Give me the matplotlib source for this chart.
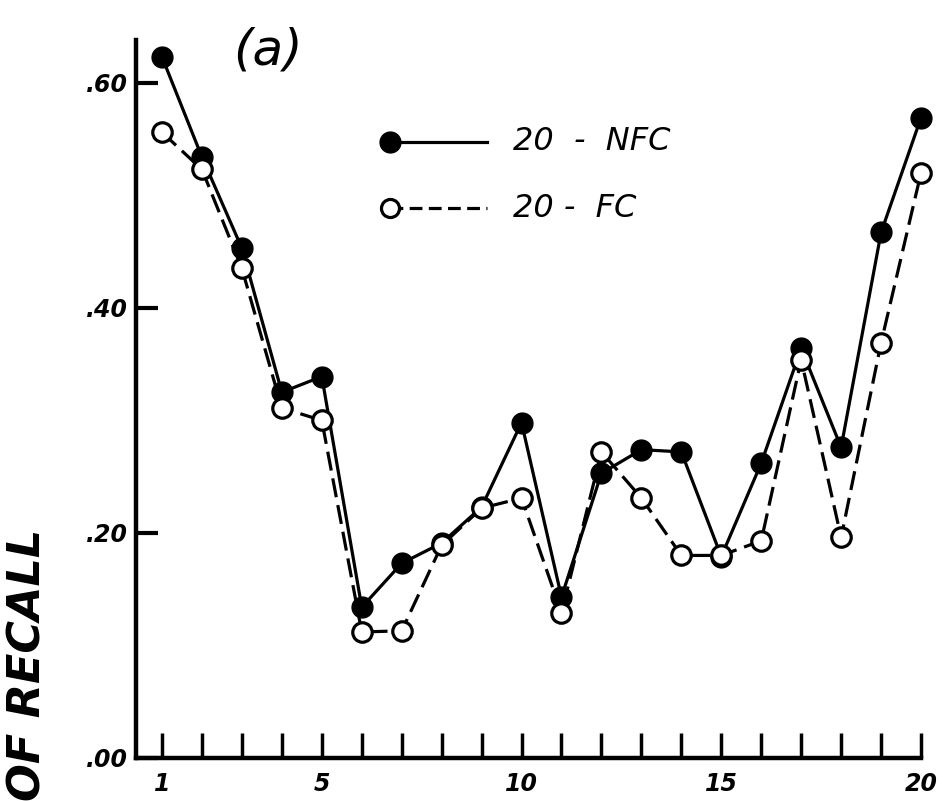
import matplotlib
matplotlib.use("Agg")
import matplotlib.pyplot as plt
import numpy as np

# serial position 1..20
positions = np.arange(1, 21)
nfc = [0.623, 0.534, 0.453, 0.325, 0.339, 0.134, 0.173, 0.191, 0.223, 0.298,
       0.143, 0.253, 0.274, 0.272, 0.179, 0.262, 0.364, 0.276, 0.467, 0.569]
fc = [0.556, 0.523, 0.435, 0.311, 0.300, 0.112, 0.113, 0.189, 0.222, 0.231,
      0.129, 0.272, 0.231, 0.180, 0.180, 0.193, 0.354, 0.196, 0.369, 0.520]
ytick_vals = [0.0, 0.2, 0.4, 0.6]
ytick_labels = [".00", ".20", ".40", ".60"]
xtick_labels = {1: "1", 5: "5", 10: "10", 15: "15", 20: "20"}

FONT = "DejaVu Sans"

fig = plt.figure(figsize=(9.46, 8.01), dpi=100)
ax = fig.add_axes([0.1438, 0.0537, 0.8298, 0.8963])

ax.plot(positions, nfc, color="black", lw=2.3, marker="o", ms=15,
        mfc="black", mec="black", zorder=3, clip_on=False)
ax.plot(positions, fc, color="black", lw=2.3, dashes=(6, 2.5), marker="o", ms=14,
        mfc="white", mec="black", mew=2.3, zorder=4, clip_on=False)

ax.set_xlim(0.35, 20)
ax.set_ylim(0, 0.638)

for side in ["top", "right"]:
    ax.spines[side].set_visible(False)
for side in ["left", "bottom"]:
    ax.spines[side].set_linewidth(3.2)

ax.set_xticks(positions)
ax.set_xticklabels([xtick_labels.get(p, "") for p in positions],
                   fontsize=17, fontstyle="italic", fontweight="bold", family=FONT)
ax.set_yticks(ytick_vals)
ax.set_yticklabels(ytick_labels, fontsize=17, fontstyle="italic",
                   fontweight="bold", family=FONT)
ax.tick_params(axis="x", direction="in", length=18, width=2.5, pad=10)
ax.tick_params(axis="y", direction="in", length=16, width=3, pad=6)

# legend drawn by hand: marker at the left end of the line
ax.plot([0.3236, 0.447], [0.858, 0.858], transform=ax.transAxes, color="black",
        lw=2.3, clip_on=False)
ax.plot([0.3236], [0.858], transform=ax.transAxes, marker="o", ms=15,
        color="black", clip_on=False)
ax.plot([0.3236, 0.447], [0.766, 0.766], transform=ax.transAxes, color="black",
        lw=2.3, dashes=(4, 2), clip_on=False)
ax.plot([0.3236], [0.766], transform=ax.transAxes, marker="o", ms=13,
        mfc="white", mec="black", mew=2.3, clip_on=False)
ax.text(0.480, 0.858, "20  -  NFC", transform=ax.transAxes, fontsize=23,
        fontstyle="italic", fontweight="medium", va="center", ha="left", family=FONT)
ax.text(0.480, 0.766, "20 -  FC", transform=ax.transAxes, fontsize=23,
        fontstyle="italic", fontweight="medium", va="center", ha="left", family=FONT)

ax.text(0.168, 0.985, "(a)", transform=ax.transAxes, fontsize=36,
        fontstyle="italic", va="center", ha="center", family=FONT)

fig.text(0.03, 0.0, "OF RECALL", rotation=90, fontsize=32, fontweight="bold",
         fontstyle="italic", va="bottom", ha="center", family=FONT)

fig.savefig("out.png", dpi=100)
